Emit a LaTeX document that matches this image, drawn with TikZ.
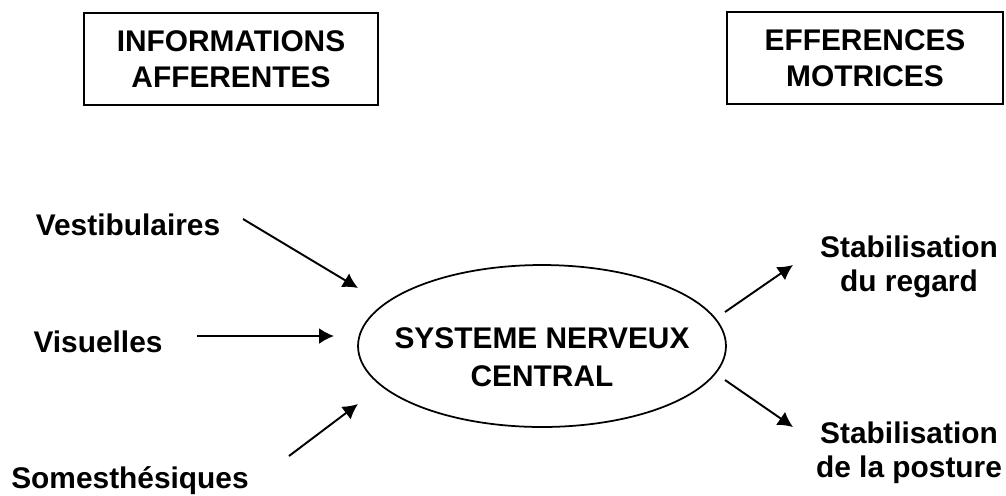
\documentclass[tikz,border=0pt]{standalone}
\usepackage{fontspec}
\setmainfont{Liberation Sans}
\usepackage{tikz}
\usetikzlibrary{positioning,shapes.geometric,arrows.meta}
\tikzstyle{schema} = [x = 0.02cm, y = -0.02cm]
\tikzstyle{labelText} = [font=\bfseries\fontsize{17}{20.5}\selectfont, align=center, inner sep=0pt]
\tikzstyle{sortieText} = [labelText, font=\bfseries\fontsize{17}{19.3}\selectfont]
\tikzstyle{titleBox} = [draw, line width=1.1pt, minimum height=1.84cm, labelText]
\tikzstyle{centreStyle} = [draw, ellipse, line width=1pt, minimum width=7.36cm, minimum height=3.24cm]
\tikzstyle{arrowStyle} = [line width=1.1pt, -{Latex[length=0.3cm, width=0.32cm]}]

\begin{document}
\begin{tikzpicture}[schema]
        \useasboundingbox (0,0) rectangle (1006,495);
        % titres
        \node [titleBox, minimum width=5.88cm] (infoBox) at (231,59) {INFORMATIONS\\AFFERENTES};
        \node [titleBox, minimum width=5.52cm] (effBox) at (865,58) {EFFERENCES\\MOTRICES};
        % centre
        \node [centreStyle] (sysNerv) at (542,346) {};
        \node [labelText, anchor=base] (sysNervText) at (542,386) {SYSTEME NERVEUX\\[0.9pt]CENTRAL};
        % entrees
        \node [labelText, anchor=base] (vestib) at (128,235) {Vestibulaires};
        \node [labelText, anchor=base] (visu) at (98,352) {Visuelles};
        \node [labelText, anchor=base] (somest) at (130,488) {Somesthésiques};
        % sorties
        \node [sortieText, anchor=base] (regard) at (909,291) {Stabilisation\\du regard};
        \node [sortieText, anchor=base] (posture) at (909,477) {Stabilisation\\de la posture};
        \coordinate (vestibStart) at (243,219);
        \coordinate (vestibEnd) at (358,288);
        \coordinate (visuStart) at (197,336);
        \coordinate (visuEnd) at (334,336);
        \coordinate (somestStart) at (289,456);
        \coordinate (somestEnd) at (358,404);
        \coordinate (regardStart) at (725,312);
        \coordinate (regardEnd) at (793,265);
        \coordinate (postureStart) at (725,380);
        \coordinate (postureEnd) at (793,427);
        \draw [arrowStyle] (vestibStart) -- (vestibEnd);
        \draw [arrowStyle] (visuStart) -- (visuEnd);
        \draw [arrowStyle] (somestStart) -- (somestEnd);
        \draw [arrowStyle] (regardStart) -- (regardEnd);
        \draw [arrowStyle] (postureStart) -- (postureEnd);
\end{tikzpicture}
\end{document}
